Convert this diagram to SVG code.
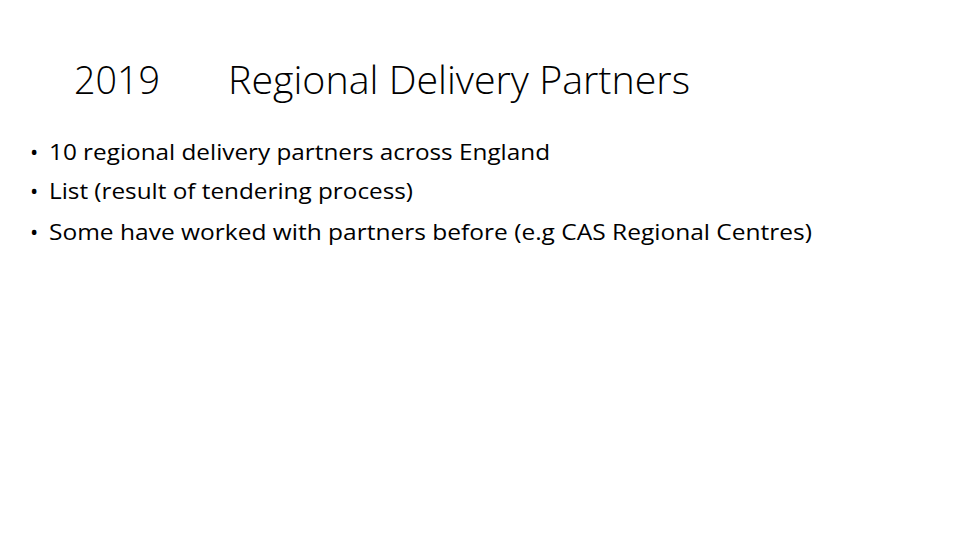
<svg xmlns="http://www.w3.org/2000/svg" width="960" height="540" viewBox="0 0 960 540">
<style>
.t{font-family:"Open Sans","Liberation Sans",sans-serif;fill:#000}
.h{font-size:38px;font-weight:300}
.b{font-size:22px}
</style>
<rect width="960" height="540" fill="#fff"/>
<g id="title">
<text class="t h" x="74" y="94" textLength="86" lengthAdjust="spacingAndGlyphs">2019</text>
<text class="t h" x="228" y="94" textLength="462" lengthAdjust="spacingAndGlyphs">Regional Delivery Partners</text>
</g>
<g id="bullets">
<text class="t b" x="30" y="160">•</text>
<text class="t b" x="49" y="160" textLength="501" lengthAdjust="spacingAndGlyphs">10 regional delivery partners across England</text>
<text class="t b" x="30" y="199">•</text>
<text class="t b" x="49" y="199" textLength="364" lengthAdjust="spacingAndGlyphs">List (result of tendering process)</text>
<text class="t b" x="30" y="240">•</text>
<text class="t b" x="49" y="240" textLength="763" lengthAdjust="spacingAndGlyphs">Some have worked with partners before (e.g CAS Regional Centres)</text>
</g>
</svg>
